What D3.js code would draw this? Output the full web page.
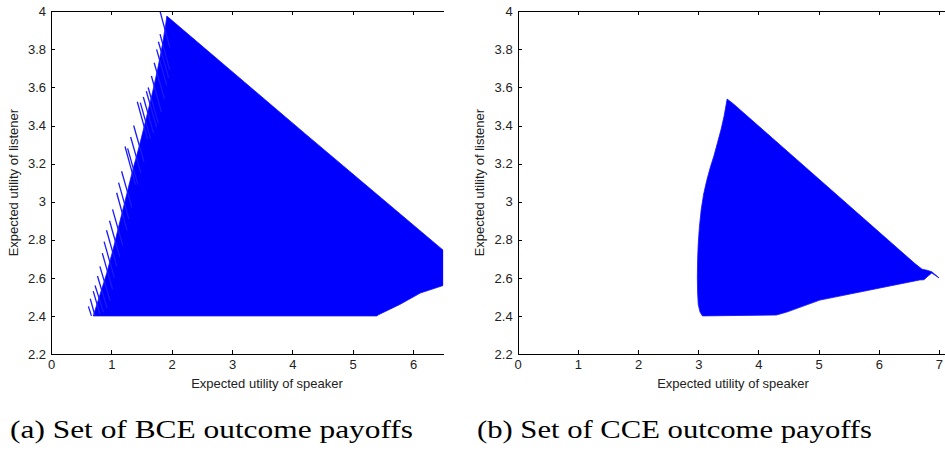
<!DOCTYPE html>
<html>
<head>
<meta charset="utf-8">
<script src="https://cdn.jsdelivr.net/npm/d3@7/dist/d3.min.js"></script>
<style>
body { margin: 0; background: #fff; }
svg { display: block; }
.axis text { font-family: "Liberation Sans", Arial, sans-serif; font-size: 13px; fill: #222; }
.axis path, .axis line { stroke: #000; shape-rendering: crispEdges; }
.label { font-family: "Liberation Sans", Arial, sans-serif; font-size: 13px; fill: #222; }
.caption { font-family: "Liberation Serif", "DejaVu Serif", serif; font-size: 25px; fill: #000; }
</style>
</head>
<body>
<svg id="chart" width="945" height="450"></svg>
<script>
var xLabel = "Expected utility of speaker";
var yLabel = "Expected utility of listener";
var captionA = "(a) Set of BCE outcome payoffs";
var captionB = "(b) Set of CCE outcome payoffs";

var yTicks = [2.2, 2.4, 2.6, 2.8, 3, 3.2, 3.4, 3.6, 3.8, 4];
var xTicksA = [0, 1, 2, 3, 4, 5, 6];
var xTicksB = [0, 1, 2, 3, 4, 5, 6, 7];

// outline of the BCE payoff cloud (speaker, listener)
var bceOutline = [
    [0.70, 2.40], [0.80, 2.50], [0.92, 2.62], [1.03, 2.75], [1.13, 2.88],
    [1.24, 3.02], [1.35, 3.16], [1.47, 3.30], [1.58, 3.44], [1.68, 3.57],
    [1.77, 3.70], [1.85, 3.83], [1.90, 3.93], [1.92, 3.975],
    [4.2, 3.36], [6.5, 2.745],
    [6.5, 2.56], [6.12, 2.52], [5.78, 2.46], [5.42, 2.405], [5.40, 2.40]
];

// thin rays sticking out of the left edge of the BCE cloud: [x1, y1, x2, y2]
var bceSpikes = [
    [0.62, 2.45, 0.67, 2.40], [0.65, 2.49, 0.73, 2.40], [0.70, 2.53, 0.81, 2.41],
    [0.73, 2.56, 0.87, 2.42], [0.77, 2.61, 0.93, 2.44], [0.81, 2.66, 0.98, 2.48],
    [0.85, 2.73, 1.02, 2.54], [0.88, 2.79, 1.05, 2.60], [0.92, 2.85, 1.09, 2.66],
    [0.97, 2.90, 1.14, 2.71], [1.02, 2.96, 1.19, 2.77], [1.088, 3.047, 1.26, 2.85],
    [1.12, 3.10, 1.29, 2.91], [1.17, 3.16, 1.34, 2.97], [1.227, 3.29, 1.40, 3.09],
    [1.27, 3.28, 1.44, 3.09], [1.32, 3.34, 1.49, 3.15], [1.37, 3.40, 1.54, 3.21],
    [1.43, 3.525, 1.60, 3.33], [1.48, 3.52, 1.65, 3.33], [1.53, 3.55, 1.70, 3.36],
    [1.58, 3.58, 1.75, 3.39], [1.61, 3.60, 1.78, 3.41], [1.664, 3.66, 1.83, 3.47],
    [1.71, 3.73, 1.88, 3.54], [1.75, 3.80, 1.92, 3.61], [1.78, 3.84, 1.95, 3.65],
    [1.807, 3.88, 1.97, 3.69], [1.807, 4.00, 1.97, 3.81]
];

// outline of the CCE payoff cloud
var cceOutline = [
    [3.48, 3.539], [3.58, 3.515], [6.60, 2.675], [6.72, 2.645], [6.80, 2.64],
    [6.88, 2.632], [7.00, 2.60], [6.88, 2.625], [6.82, 2.61], [6.75, 2.59],
    [6.68, 2.589], [5.85, 2.536], [5.02, 2.483], [4.47, 2.42], [4.30, 2.405],
    [3.07, 2.40], [3.03, 2.42], [3.00, 2.46], [2.99, 2.52], [2.985, 2.60],
    [2.99, 2.70], [3.00, 2.78], [3.02, 2.87], [3.05, 2.96], [3.09, 3.04],
    [3.14, 3.11], [3.20, 3.18], [3.26, 3.24], [3.32, 3.31], [3.38, 3.38],
    [3.43, 3.45]
];

var svg = d3.select("#chart");
var plotTop = 11.3, plotBottom = 354;

var panels = [
    {id: "a", left: 51, right: 443.2, xMax: 6.5, xTicks: xTicksA, outline: bceOutline, spikes: bceSpikes,
        caption: captionA, capX: 10, capW: 403, xLabelX: 267, yLabelX: 18},
    {id: "b", left: 517.7, right: 945, xMax: 7.1, xTicks: xTicksB, outline: cceOutline, spikes: [],
        caption: captionB, capX: 477, capW: 395, xLabelX: 733, yLabelX: 483.5}
];

panels.forEach(function (p) {
    var x = d3.scaleLinear().domain([0, p.xMax]).range([p.left, p.right]);
    var y = d3.scaleLinear().domain([2.2, 4]).range([plotBottom, plotTop]);

    svg.append("clipPath").attr("id", "clip-" + p.id)
        .append("rect")
        .attr("x", p.left).attr("y", plotTop)
        .attr("width", p.right - p.left).attr("height", plotBottom - plotTop);

    var plot = svg.append("g").attr("clip-path", "url(#clip-" + p.id + ")");

    var line = d3.line()
        .x(function (d) { return x(d[0]); })
        .y(function (d) { return y(d[1]); })
        .curve(d3.curveLinearClosed);

    plot.append("path")
        .datum(p.outline)
        .attr("d", line)
        .attr("fill", "#0000ff")
        .attr("stroke", "#1010ff")
        .attr("stroke-width", 0.8);

    plot.selectAll("line.spike")
        .data(p.spikes)
        .enter().append("line")
        .attr("class", "spike")
        .attr("x1", function (d) { return x(d[0]); })
        .attr("y1", function (d) { return y(d[1]); })
        .attr("x2", function (d) { return x(d[2]); })
        .attr("y2", function (d) { return y(d[3]); })
        .attr("stroke", "#1a1aff")
        .attr("stroke-width", 1.3);

    // axes, MATLAB style ticks pointing inward
    svg.append("g").attr("class", "axis")
        .attr("transform", "translate(0," + plotBottom + ")")
        .call(d3.axisBottom(x).tickValues(p.xTicks).tickSize(-4).tickSizeOuter(0)
            .tickPadding(6).tickFormat(d3.format("d")));

    svg.append("g").attr("class", "axis")
        .attr("transform", "translate(0," + plotTop + ")")
        .call(d3.axisTop(x).tickValues(p.xTicks).tickSize(-4).tickSizeOuter(0).tickFormat(""));

    svg.append("g").attr("class", "axis")
        .attr("transform", "translate(" + p.left + ",0)")
        .call(d3.axisLeft(y).tickValues(yTicks).tickSize(-4).tickSizeOuter(0)
            .tickPadding(5).tickFormat(function (d) { return String(+d.toFixed(1)); }));

    svg.append("text").attr("class", "label")
        .attr("x", p.xLabelX).attr("y", 387.5)
        .attr("text-anchor", "middle")
        .text(xLabel);

    svg.append("text").attr("class", "label")
        .attr("transform", "translate(" + p.yLabelX + "," + ((plotTop + plotBottom) / 2) + ") rotate(-90)")
        .attr("text-anchor", "middle")
        .text(yLabel);

    svg.append("text").attr("class", "caption")
        .attr("x", p.capX).attr("y", 438)
        .attr("textLength", p.capW)
        .attr("lengthAdjust", "spacingAndGlyphs")
        .text(p.caption);
});
</script>
</body>
</html>
